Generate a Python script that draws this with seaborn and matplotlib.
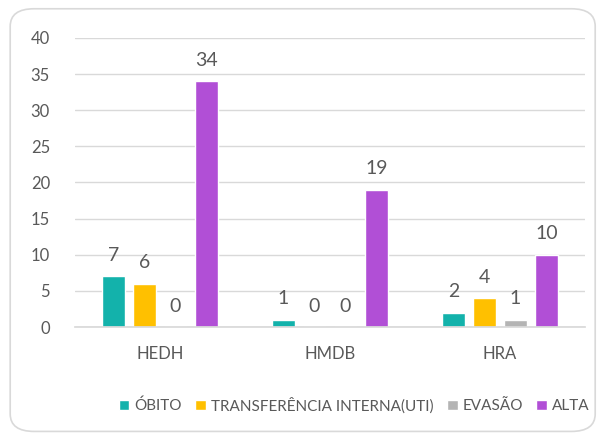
import pandas as pd
import matplotlib
matplotlib.use('Agg')
import matplotlib.pyplot as plt
from matplotlib.patches import FancyBboxPatch
import seaborn as sns

# Data
hospitals = ['HEDH', 'HMDB', 'HRA']
obito = [7, 1, 2]
transferencia = [6, 0, 4]
evasao = [0, 0, 1]
alta = [34, 19, 10]

series_names = ['ÓBITO', 'TRANSFERÊNCIA INTERNA(UTI)', 'EVASÃO', 'ALTA']
colors = ['#13B2AB', '#FFC000', '#B4B4B4', '#B14FD6']


def main():
    rows = []
    for name, vals in zip(series_names, [obito, transferencia, evasao, alta]):
        for h, v in zip(hospitals, vals):
            rows.append({'Hospital': h, 'Desfecho': name, 'Valor': v})
    df = pd.DataFrame(rows)

    sns.set_theme(style="white")
    plt.rcParams['font.family'] = ['Lato', 'DejaVu Sans']
    text_color = '#595959'

    fig = plt.figure(figsize=(6, 4.38), dpi=100)
    border = FancyBboxPatch((0.017, 0.015), 0.975, 0.965,
                            boxstyle="round,pad=0,rounding_size=0.04",
                            transform=fig.transFigure, facecolor='white',
                            edgecolor='#D9D9D9', linewidth=1.2, zorder=-10)
    fig.patches.append(border)
    ax = fig.add_axes([0.125, 0.2534, 0.85, 0.66])
    ax.set_facecolor('none')

    sns.barplot(data=df, x='Hospital', y='Valor', hue='Desfecho',
                palette=colors, saturation=1, width=0.73, gap=0.23, ax=ax,
                order=hospitals, hue_order=series_names, legend=True)

    for cont in ax.containers:
        ax.bar_label(cont, padding=9, fontsize=14, color=text_color)

    ax.set_ylim(0, 40)
    ax.set_yticks(range(0, 41, 5))
    ax.set_xlim(-0.5, 2.5)
    ax.set_xlabel('')
    ax.set_ylabel('')
    ax.grid(axis='y', color='#D9D9D9', linewidth=1)
    ax.set_axisbelow(True)
    for s in ['top', 'right', 'left']:
        ax.spines[s].set_visible(False)
    ax.spines['bottom'].set_color('#D9D9D9')
    ax.tick_params(axis='y', length=0, pad=18, labelsize=12, labelcolor=text_color)
    ax.tick_params(axis='x', length=0, pad=14, labelsize=12, labelcolor=text_color)

    handles, labels = ax.get_legend_handles_labels()
    ax.get_legend().remove()
    fig.legend(handles, labels, loc='center', bbox_to_anchor=(0.59, 0.075),
               ncol=4, frameon=False, fontsize=11, handlelength=0.7,
               handleheight=0.7, handletextpad=0.3, columnspacing=0.9,
               labelcolor=text_color)

    fig.savefig('out.png', dpi=100)


if __name__ == "__main__":
    main()
